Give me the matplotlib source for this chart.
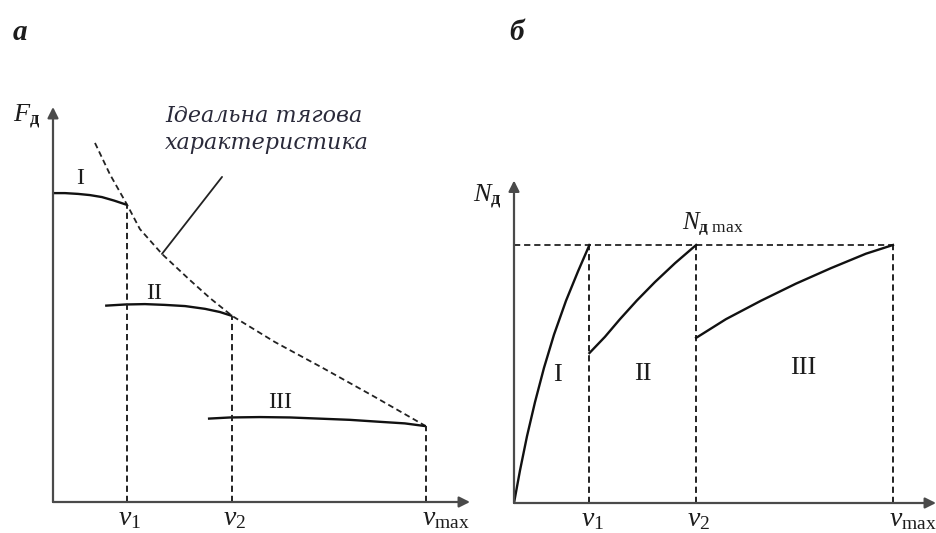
import matplotlib
matplotlib.use('Agg')
import matplotlib.pyplot as plt

plt.rcParams['font.family'] = ['Liberation Serif', 'DejaVu Serif']
plt.rcParams['mathtext.fontset'] = 'custom'
plt.rcParams['mathtext.rm'] = 'Liberation Serif'
plt.rcParams['mathtext.it'] = 'Liberation Serif:italic'
plt.rcParams['mathtext.bf'] = 'Liberation Serif:bold'

# характерні швидкості
v1, v2, v_max = 20.5, 49.5, 103.0
v_marks = [v1, v2, v_max]
v_labels = [r'$v_1$', r'$v_2$', r'$v_{\mathrm{max}}$']

# а) тягові характеристики на передачах
f1_v = [0, 3.3, 6.9, 10.2, 13.5, 16.9, 20.5]
f1_F = [78.2, 78.2, 78.0, 77.7, 77.2, 76.3, 75.2]
f2_v = [14.4, 19.9, 25.4, 30.9, 36.5, 42.0, 46.1, 49.5]
f2_F = [49.7, 50.0, 50.1, 49.9, 49.6, 48.9, 48.1, 47.1]
f3_v = [42.8, 48.9, 57.2, 65.5, 73.8, 82.0, 90.3, 97.2, 103.0]
f3_F = [21.1, 21.4, 21.5, 21.4, 21.1, 20.8, 20.3, 19.9, 19.2]
ideal_v = [11.6, 15.7, 20.5, 24.0, 30.1, 37.8, 43.4, 49.5, 61.3, 74.6, 88.9, 103.0]
ideal_F = [90.9, 83.0, 75.2, 69.1, 62.8, 56.2, 51.6, 47.1, 40.5, 33.9, 26.6, 19.2]

# б) потужність двигуна
n_max = 80.0
n1_v = [0, 1.63, 3.53, 5.71, 8.15, 10.87, 14.13, 17.39, 20.5]
n1_N = [0, 10.1, 20.7, 31.3, 41.9, 52.2, 62.7, 71.8, 80.0]
n2_v = [20.5, 24.7, 28.8, 33.4, 38.3, 43.8, 49.5]
n2_N = [46.5, 51.5, 57.0, 62.8, 68.5, 74.4, 80.0]
n3_v = [49.5, 57.6, 67.1, 76.6, 86.1, 95.65, 103.0]
n3_N = [51.2, 57.0, 62.7, 68.0, 72.8, 77.3, 80.0]

gear_names = ['I', 'II', 'III']

W, H = 937, 533
fig = plt.figure(figsize=(W / 100, H / 100), dpi=100)


def box(x0, y0, x1, y1):
    # пікселі -> частки фігури
    return [x0 / W, (H - y0) / H, (x1 - x0) / W, (y0 - y1) / H]


axF = fig.add_axes(box(53, 502, 470, 107))
axN = fig.add_axes(box(514, 503, 936, 180.5))
axF.set_xlim(0, 115.2)
axF.set_ylim(0, 100)
axN.set_xlim(0, 114.7)
axN.set_ylim(0, 100)

axis_col = '#4a4a4a'
txt_col = '#1c1c1c'
dash = (0, (3.2, 2.0))

for ax in (axF, axN):
    for s in ax.spines.values():
        s.set_visible(False)
    ax.set_xticks([])
    ax.set_yticks([])
    ax.patch.set_alpha(0)
    arrow = dict(arrowstyle='-|>', color=axis_col, lw=1.6,
                 mutation_scale=16, shrinkA=0, shrinkB=0)
    ax.annotate('', xy=(0, 1), xytext=(0, 0), xycoords='axes fraction',
                arrowprops=arrow, annotation_clip=False)
    ax.annotate('', xy=(1, 0), xytext=(0, 0), xycoords='axes fraction',
                arrowprops=arrow, annotation_clip=False)
    for v, lab in zip(v_marks, v_labels):
        ha = 'left' if v == v_max else 'center'
        dx = -3 if v == v_max else 2
        ax.annotate(lab, xy=(v, 0), xytext=(dx, -3), textcoords='offset points',
                    ha=ha, va='top', fontsize=20, color=txt_col,
                    annotation_clip=False)

# --- а ---
axF.plot(ideal_v, ideal_F, color='#222', lw=1.3, ls=dash)
for vv, FF in ((f1_v, f1_F), (f2_v, f2_F), (f3_v, f3_F)):
    axF.plot(vv, FF, color='#111', lw=1.7, solid_capstyle='butt',
             solid_joinstyle='round')
# вертикалі від точок перемикання
for vv, FF in ((f1_v, f1_F), (f2_v, f2_F), (f3_v, f3_F)):
    axF.plot([vv[-1], vv[-1]], [0, FF[-1]], color='#222', lw=1.4, ls=dash)

for name, (x, y) in zip(gear_names, [(7.5, 82), (27.9, 52.9), (62.7, 25.3)]):
    axF.text(x, y, name, ha='center', va='center', fontsize=17, color=txt_col)

axF.text(-7.2, 97.5, r'$F_{\mathbf{д}}$', ha='center', va='center',
         fontsize=19, color=txt_col)
axF.text(30.9, 100.5, 'Ідеальна тягова\nхарактеристика', ha='left', va='top',
         fontsize=16, style='italic', family=['DejaVu Serif'],
         linespacing=1.3, color='#2a2a3a')
axF.annotate('', xy=(ideal_v[4], ideal_F[4]), xytext=(46.7, 82.3),
             arrowprops=dict(arrowstyle='-', color='#222', lw=1.3,
                             shrinkA=0, shrinkB=0))

# --- б ---
axN.plot([0, v_max], [n_max, n_max], color='#333', lw=1.4, ls=dash)
for v in v_marks:
    axN.plot([v, v], [0, n_max], color='#222', lw=1.4, ls=dash)
for vv, NN in ((n1_v, n1_N), (n2_v, n2_N), (n3_v, n3_N)):
    axN.plot(vv, NN, color='#111', lw=1.7, solid_joinstyle='round')

for name, (x, y) in zip(gear_names, [(11.7, 39.7), (35.1, 40.0), (78.5, 41.9)]):
    axN.text(x, y, name, ha='center', va='center', fontsize=19, color=txt_col)

axN.text(-7.1, 94.9, r'$N_{\mathbf{д}}$', ha='center', va='center',
         fontsize=19, color=txt_col)
axN.text(45.6, 84.7, r'$N_{\mathbf{д}\ \mathrm{max}}$', ha='left', va='baseline',
         fontsize=18, color=txt_col)

fig.text(20 / W, 1 - 32 / H, 'а', ha='center', va='center', fontsize=21,
         weight='bold', style='italic', color=txt_col)
fig.text(517 / W, 1 - 32 / H, 'б', ha='center', va='center', fontsize=21,
         weight='bold', style='italic', color=txt_col)

fig.savefig('out.png', dpi=100)
